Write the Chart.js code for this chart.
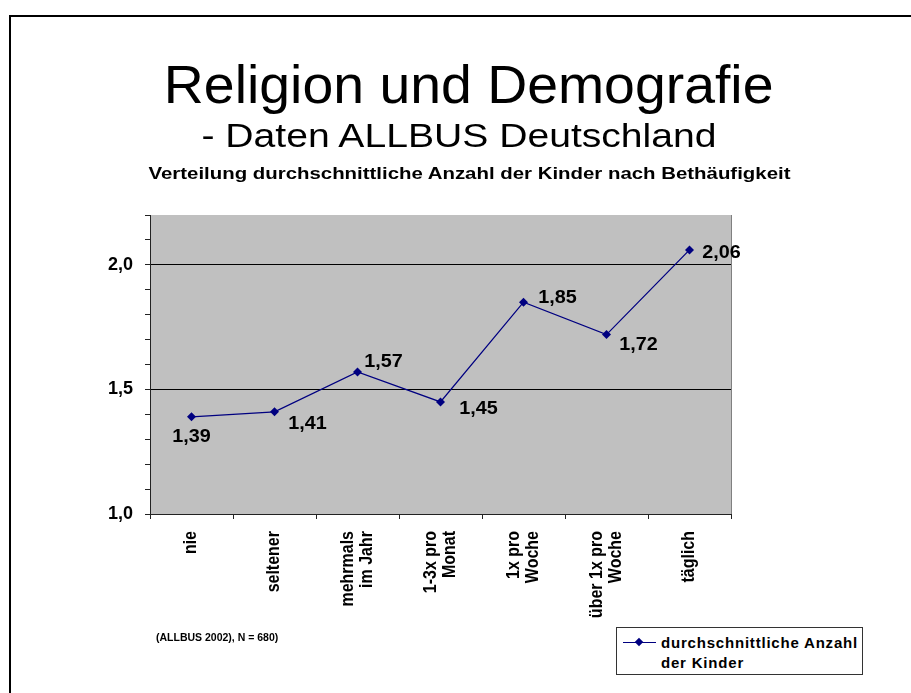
<!DOCTYPE html>
<html>
<head>
<meta charset="utf-8">
<script src="https://cdn.jsdelivr.net/npm/chart.js@4/dist/chart.umd.min.js"></script>
<style>
    body { margin: 0; background: #fff; font-family: "Liberation Sans", Arial, sans-serif; }
    #wrap { position: relative; width: 911px; height: 693px; overflow: hidden; }
    #frame { position: absolute; left: 9px; top: 15px; width: 1000px; height: 1000px; border: 2px solid #000; }
    #chart { position: absolute; left: 0; top: 0; }
    .txt { position: absolute; width: 0; display: flex; justify-content: center; color: #000; white-space: nowrap; }
    .txt span { display: inline-block; transform-origin: center; }
    #title { top: 58px; left: 469px; font-size: 53px; line-height: 53px; }
    #title span { transform: scaleX(1.045); }
    #sub { top: 118px; left: 459px; font-size: 34px; line-height: 34px; }
    #sub span { transform: scaleX(1.15); }
    #sub2 { top: 165px; left: 469px; font-size: 17px; line-height: 17px; font-weight: bold; }
    #sub2 span { transform: scaleX(1.2); }
    #note { position: absolute; left: 156px; top: 632px; font-size: 10.5px; line-height: 11px; font-weight: bold; }
    #legend { position: absolute; left: 616px; top: 627px; width: 245px; height: 46px; border: 1px solid #333; background: #fff; }
    #legend .line { position: absolute; left: 6px; top: 14px; width: 33px; height: 1px; background: #000080; }
    #legend .dot { position: absolute; left: 19px; top: 11px; width: 6px; height: 6px; background: #000080; transform: rotate(45deg); }
    #legend .lbl { position: absolute; left: 44px; top: 5px; font-size: 15px; line-height: 20px; font-weight: bold; letter-spacing: 0.8px; }
</style>
</head>
<body>
<div id="wrap">
    <div id="frame"></div>
    <canvas id="chart" width="911" height="693"></canvas>
    <div class="txt" id="title"><span>Religion und Demografie</span></div>
    <div class="txt" id="sub"><span>- Daten ALLBUS Deutschland</span></div>
    <div class="txt" id="sub2"><span>Verteilung durchschnittliche Anzahl der Kinder nach Bethäufigkeit</span></div>
    <div id="note">(ALLBUS 2002), N = 680)</div>
    <div id="legend">
        <div class="line"></div>
        <div class="dot"></div>
        <div class="lbl">durchschnittliche Anzahl<br>der Kinder</div>
    </div>
</div>
<script>
// Daten
const categories = [
    ['nie'],
    ['seltener'],
    ['mehrmals', 'im Jahr'],
    ['1-3x pro', 'Monat'],
    ['1x pro', 'Woche'],
    ['über 1x pro', 'Woche'],
    ['täglich']
];
const kinder = [1.39, 1.41, 1.57, 1.45, 1.85, 1.72, 2.06];
const yTickLabels = [1.0, 1.5, 2.0];

// Lage der Wertebeschriftung relativ zum Punkt
const labelDx = [0, 33, 26, 38, 34, 32, 32];
const labelDy = [20, 12, -10, 7, -4, 10, 3];

const FONT = '"Liberation Sans", Arial, sans-serif';

// grauer Hintergrund der Zeichenfläche
const plotBg = {
    id: 'plotBg',
    beforeDraw(chart) {
        const { ctx, chartArea: { left, top, right, bottom } } = chart;
        ctx.save();
        ctx.fillStyle = '#C0C0C0';
        ctx.fillRect(left, top, right - left, bottom - top);
        ctx.strokeStyle = '#808080';
        ctx.lineWidth = 1;
        ctx.beginPath();
        ctx.moveTo(right + 0.5, top);
        ctx.lineTo(right + 0.5, bottom);
        ctx.stroke();
        ctx.restore();
    }
};

// Kategorien senkrecht, mehrzeilig um die Mitte
const xLabels = {
    id: 'xLabels',
    afterDraw(chart) {
        const { ctx } = chart;
        const xs = chart.scales.x;
        const lineH = 19;
        ctx.save();
        ctx.font = 'bold 16px ' + FONT;
        ctx.fillStyle = '#000';
        ctx.textAlign = 'right';
        ctx.textBaseline = 'middle';
        categories.forEach((lines, i) => {
            const px = xs.getPixelForValue(i);
            lines.forEach((t, j) => {
                const cx = px + (j - (lines.length - 1) / 2) * lineH;
                ctx.save();
                ctx.translate(cx, xs.top + 17);
                ctx.rotate(-Math.PI / 2);
                ctx.scale(1, 1.12);
                ctx.fillText(t, 0, 0);
                ctx.restore();
            });
        });
        ctx.restore();
    }
};

// Wertebeschriftung
const valueLabels = {
    id: 'valueLabels',
    afterDatasetsDraw(chart) {
        const { ctx } = chart;
        const meta = chart.getDatasetMeta(0);
        ctx.save();
        ctx.font = 'bold 18px ' + FONT;
        ctx.fillStyle = '#000';
        ctx.textAlign = 'center';
        ctx.textBaseline = 'middle';
        meta.data.forEach((pt, i) => {
            ctx.save();
            ctx.translate(pt.x + labelDx[i], pt.y + labelDy[i]);
            ctx.scale(1.1, 1);
            ctx.fillText(kinder[i].toFixed(2).replace('.', ','), 0, 0);
            ctx.restore();
        });
        ctx.restore();
    }
};

const isMajor = v => yTickLabels.some(t => Math.abs(t - v) < 1e-6);

new Chart(document.getElementById('chart').getContext('2d'), {
    type: 'line',
    data: {
        labels: categories.map(c => c.join(' ')),
        datasets: [{
            label: 'durchschnittliche Anzahl der Kinder',
            data: kinder,
            borderColor: '#000080',
            borderWidth: 1.3,
            backgroundColor: '#000080',
            pointStyle: 'rectRot',
            pointRadius: 4.5,
            pointBorderWidth: 0,
            pointBackgroundColor: '#000080',
            tension: 0
        }]
    },
    options: {
        responsive: false,
        animation: false,
        layout: { padding: { left: 0, right: 180, top: 215, bottom: 0 } },
        plugins: {
            legend: { display: false },
            tooltip: { enabled: false }
        },
        scales: {
            x: {
                type: 'category',
                offset: true,
                grid: { offset: true, drawOnChartArea: false, drawTicks: true, tickLength: 5, tickColor: '#222' },
                border: { color: '#222', width: 1 },
                ticks: { display: false },
                afterFit: s => { s.height = 179; }
            },
            y: {
                min: 1,
                max: 2.2,
                ticks: {
                    stepSize: 0.1,
                    autoSkip: false,
                    padding: 12,
                    color: '#000',
                    font: { family: FONT, size: 18, weight: 'bold' },
                    callback: v => isMajor(v) ? v.toFixed(1).replace('.', ',') : ''
                },
                grid: {
                    color: c => isMajor(c.tick.value) && c.tick.value > 1.01 ? '#000' : 'rgba(0,0,0,0)',
                    tickColor: '#222',
                    tickLength: 5,
                    lineWidth: 1
                },
                border: { color: '#222', width: 1 },
                afterFit: s => { s.width = 150; }
            }
        }
    },
    plugins: [plotBg, xLabels, valueLabels]
});
</script>
</body>
</html>
